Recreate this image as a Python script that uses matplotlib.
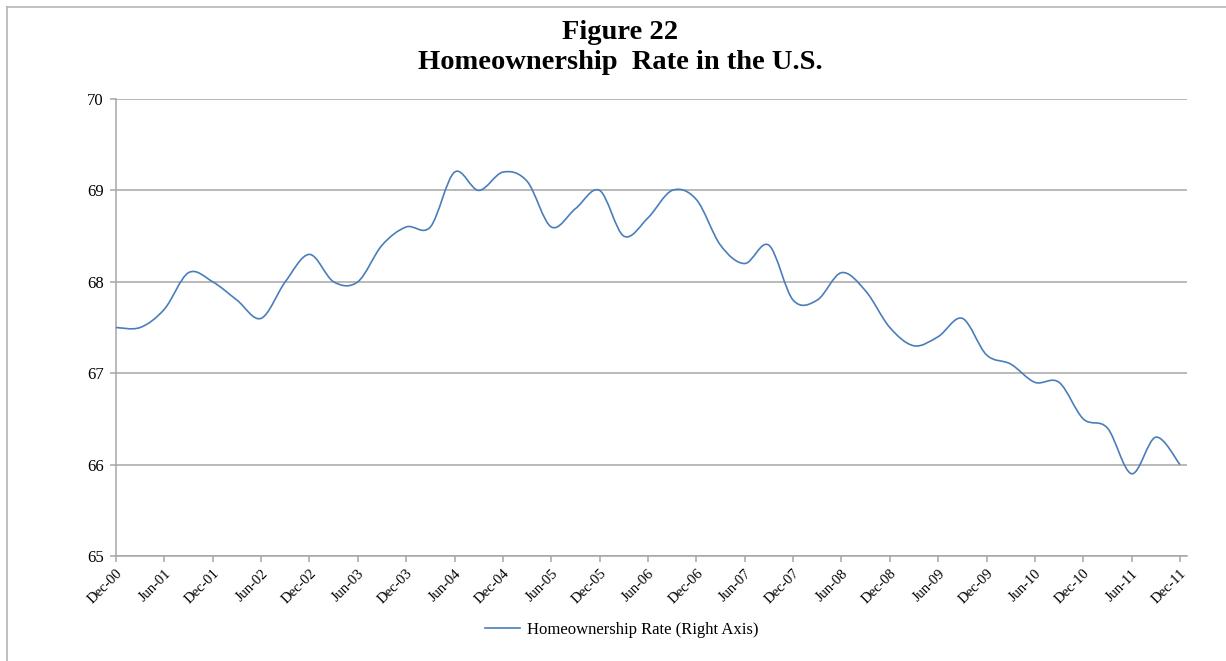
import numpy as np
import matplotlib
matplotlib.use("Agg")
import matplotlib.pyplot as plt
from matplotlib.path import Path
from matplotlib.patches import PathPatch
from matplotlib.lines import Line2D

# quarterly homeownership rate, Dec-00 .. Dec-11
rate = [67.5, 67.5, 67.7, 68.1, 68.0, 67.8, 67.6, 68.0, 68.3, 68.0,
        68.0, 68.4, 68.6, 68.6, 69.2, 69.0, 69.2, 69.1, 68.6, 68.8,
        69.0, 68.5, 68.7, 69.0, 68.9, 68.4, 68.2, 68.4, 67.8, 67.8,
        68.1, 67.9, 67.5, 67.3, 67.4, 67.6, 67.2, 67.1, 66.9, 66.9,
        66.5, 66.4, 65.9, 66.3, 66.0]
tick_labels = ['Dec-00', 'Jun-01', 'Dec-01', 'Jun-02', 'Dec-02', 'Jun-03',
               'Dec-03', 'Jun-04', 'Dec-04', 'Jun-05', 'Dec-05', 'Jun-06',
               'Dec-06', 'Jun-07', 'Dec-07', 'Jun-08', 'Dec-08', 'Jun-09',
               'Dec-09', 'Jun-10', 'Dec-10', 'Jun-11', 'Dec-11']
series_name = 'Homeownership Rate (Right Axis)'

blue = '#4a7ebb'
grid_gray = '#a6a6a6'


def smooth_path(x, y):
    # excel-like smoothed line: cubic bezier segments (catmull-rom control points)
    pts = np.column_stack([x, y]).astype(float)
    padded = np.vstack([pts[0], pts, pts[-1]])
    verts = [pts[0]]
    codes = [Path.MOVETO]
    for i in range(len(pts) - 1):
        p0, p1, p2, p3 = padded[i], padded[i + 1], padded[i + 2], padded[i + 3]
        c1 = p1 + (p2 - p0) / 6.0
        c2 = p2 - (p3 - p1) / 6.0
        verts += [c1, c2, p2]
        codes += [Path.CURVE4] * 3
    return Path(verts, codes)


plt.rcParams['font.family'] = ['Liberation Serif', 'DejaVu Serif']

fig = plt.figure(figsize=(12.26, 6.61), dpi=100)
ax = fig.add_axes([116 / 1226, 1 - 556 / 661, (1187 - 116) / 1226, (556 - 99) / 661])

x = np.arange(len(rate))
ax.add_patch(PathPatch(smooth_path(x, rate), facecolor='none', edgecolor=blue,
                       linewidth=1.2, zorder=3))

ax.set_xlim(0, 44.29)
ax.set_ylim(65, 70)
ax.set_yticks(range(65, 71))
ax.set_xticks(np.arange(0, 45, 2))
ax.set_xticklabels(tick_labels, rotation=45, ha='right', rotation_mode='anchor')

ax.grid(axis='y', color=grid_gray, linewidth=1.1)
ax.set_axisbelow(True)
for side in ['top', 'right']:
    ax.spines[side].set_visible(False)
for side in ['left', 'bottom']:
    ax.spines[side].set_color(grid_gray)
    ax.spines[side].set_linewidth(1.1)
ax.tick_params(axis='both', colors=grid_gray, length=4, width=1.1,
               labelcolor='black')
ax.tick_params(axis='y', labelsize=12, pad=5)
ax.tick_params(axis='x', labelsize=10.5, pad=4)

# title
fig.text(620 / 1226, 1 - 39 / 661, 'Figure 22', ha='center', va='baseline',
         fontsize=20.5, fontweight='bold')
fig.text(620 / 1226, 1 - 69 / 661, 'Homeownership  Rate in the U.S.', ha='center',
         va='baseline', fontsize=20.5, fontweight='bold')

# legend
handle = Line2D([], [], color=blue, linewidth=1.2)
fig.legend([handle], [series_name], loc='center', frameon=False,
           bbox_to_anchor=(622 / 1226, 1 - 630 / 661), fontsize=12,
           handlelength=2.1, handletextpad=0.4)

# outer chart frame
fig.add_artist(Line2D([7 / 1226, 1], [1 - 7 / 661, 1 - 7 / 661], color='#b5b5b5',
                      linewidth=1.2, transform=fig.transFigure))
fig.add_artist(Line2D([7 / 1226, 7 / 1226], [0, 1 - 7 / 661], color='#b5b5b5',
                      linewidth=1.2, transform=fig.transFigure))

fig.savefig('out.png', dpi=100)
